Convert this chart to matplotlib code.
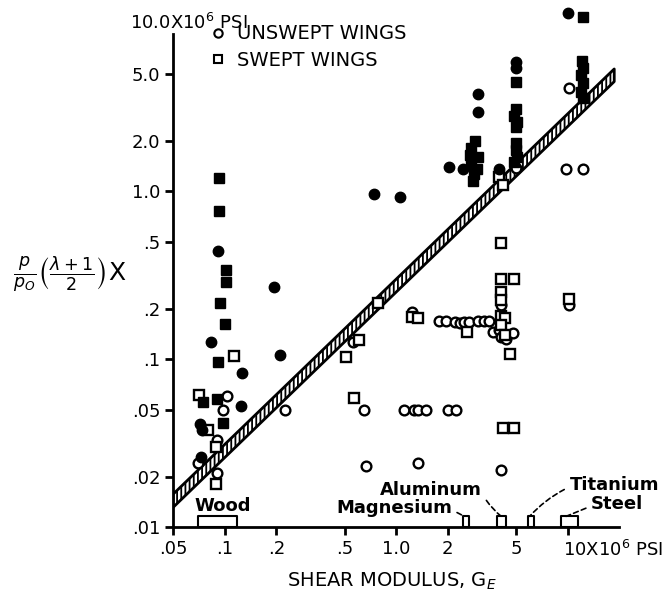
import matplotlib
matplotlib.use("Agg")
import matplotlib.pyplot as plt
from matplotlib.lines import Line2D
from matplotlib.ticker import NullLocator, FixedLocator, FixedFormatter

plt.rcParams['font.family'] = ['DejaVu Sans']
plt.rcParams['mathtext.fontset'] = 'dejavusans'
plt.rcParams['hatch.linewidth'] = 1.3

# shear modulus (10^6 psi) vs flutter parameter
# unswept wings, open / filled
uo_x = [0.103, 0.098, 0.226, 0.090, 0.070, 0.090, 0.56, 0.65, 1.11, 1.27, 1.34, 1.49,
        2.0, 2.23, 0.67, 1.35, 4.1, 1.23, 1.77, 1.95, 2.2, 2.35, 2.5, 2.65, 3.0, 3.25,
        3.5, 3.67, 4.0, 4.1, 4.4, 4.8, 4.1, 10.2, 5.0, 10.2, 9.8, 12.3]
uo_y = [0.060, 0.050, 0.050, 0.033, 0.024, 0.021, 0.126, 0.050, 0.050, 0.050, 0.050, 0.050,
        0.050, 0.050, 0.023, 0.024, 0.022, 0.19, 0.168, 0.168, 0.166, 0.165, 0.166, 0.166,
        0.168, 0.168, 0.168, 0.145, 0.150, 0.135, 0.132, 0.143, 0.21, 0.21, 1.37, 4.1,
        1.35, 1.35]
uf_x = [0.092, 0.083, 0.127, 0.195, 0.21, 0.125, 0.072, 0.074, 0.073, 0.74, 1.05, 2.03,
        2.45, 3.0, 3.0, 5.0, 5.0, 4.0, 10.1]
uf_y = [0.44, 0.126, 0.083, 0.27, 0.106, 0.053, 0.041, 0.038, 0.026, 0.97, 0.92, 1.39,
        1.36, 3.8, 2.95, 5.9, 5.4, 1.35, 11.5]

# swept wings, open / filled
so_x = [0.071, 0.080, 0.089, 0.089, 0.114, 0.78, 0.61, 0.51, 0.57, 1.23, 1.35, 2.58,
        4.1, 4.1, 4.9, 4.1, 4.1, 4.1, 4.3, 4.6, 4.2, 4.9, 10.2, 3.96, 4.2, 4.1, 4.3]
so_y = [0.061, 0.038, 0.030, 0.018, 0.104, 0.215, 0.131, 0.103, 0.059, 0.178, 0.175, 0.145,
        0.49, 0.30, 0.30, 0.25, 0.224, 0.18, 0.175, 0.107, 0.039, 0.039, 0.228, 1.21, 1.09,
        0.16, 0.14]
sf_x = [0.093, 0.093, 0.102, 0.102, 0.094, 0.101, 0.092, 0.075, 0.090, 0.098,
        2.9, 2.75, 2.7, 3.0, 2.75, 2.95, 2.85, 2.8,
        5.0, 5.0, 4.9, 5.1, 5.0, 5.0, 5.0, 5.1, 4.9,
        12.3, 12.2, 12.3, 12.0, 12.3, 12.0, 12.3]
sf_y = [1.2, 0.76, 0.34, 0.29, 0.215, 0.163, 0.096, 0.056, 0.058, 0.042,
        2.0, 1.8, 1.65, 1.6, 1.45, 1.35, 1.27, 1.15,
        4.5, 3.1, 2.8, 2.6, 2.4, 1.93, 1.75, 1.6, 1.5,
        10.9, 6.0, 5.4, 4.9, 4.4, 3.9, 3.6]

# hatched design band
band_x = [0.05, 18.7]
band_lo = [0.0131, 4.5]
band_hi = [0.0157, 5.35]

# material ranges along the axis (start, end)
materials = ['Wood', 'Magnesium', 'Aluminum', 'Titanium', 'Steel']
mat_lo = [0.070, 2.45, 3.87, 5.87, 9.17]
mat_hi = [0.118, 2.65, 4.37, 6.37, 11.5]

xticks = [0.05, 0.1, 0.2, 0.5, 1.0, 2, 5, 10]
xlabels = ['.05', '.1', '.2', '.5', '1.0', '2', '5', '']
yticks = [0.01, 0.02, 0.05, 0.1, 0.2, 0.5, 1.0, 2.0, 5.0]
ylabels = ['.01', '.02', '.05', '.1', '.2', '.5', '1.0', '2.0', '5.0']

fig = plt.figure(figsize=(6.68, 5.91), dpi=100)
ax = fig.add_axes([0.259, 0.108, 0.668, 0.875])
ax.set_xscale('log')
ax.set_yscale('log')
ax.set_xlim(0.05, 20)
ax.set_ylim(0.01, 12)

# band
ax.fill_between(band_x, band_lo, band_hi, facecolor='white', edgecolor='black',
                hatch='||||', linewidth=2, zorder=2)

ms = 7
ax.plot(uo_x, uo_y, 'o', ms=ms, mfc='white', mec='black', mew=1.7, ls='none',
        zorder=3, clip_on=False)
ax.plot(so_x, so_y, 's', ms=ms - 0.5, mfc='white', mec='black', mew=1.7, ls='none',
        zorder=3, clip_on=False)
ax.plot(uf_x, uf_y, 'o', ms=ms + 0.5, color='black', ls='none', zorder=4, clip_on=False)
ax.plot(sf_x, sf_y, 's', ms=ms, color='black', ls='none', zorder=4, clip_on=False)

# material boxes on the x axis
for lo, hi in zip(mat_lo, mat_hi):
    ax.fill_between([lo, hi], [0.01, 0.01], [0.0116, 0.0116], facecolor='white',
                    edgecolor='black', linewidth=1.5, zorder=2)

lead = dict(arrowstyle='-', ls=(0, (3, 2)), lw=1.2, color='black', shrinkA=2, shrinkB=0)
tfont = dict(fontsize=13, fontweight='bold', ha='center', va='center')
ax.text(0.097, 0.0133, 'Wood', **tfont)
ax.annotate('Magnesium', xy=(2.5, 0.0116), xytext=(0.97, 0.0130),
            arrowprops=dict(lead, relpos=(1, 0.4)), annotation_clip=False, **tfont)
ax.annotate('Aluminum', xy=(4.1, 0.0116), xytext=(1.6, 0.0167),
            arrowprops=dict(lead, relpos=(1, 0.3), connectionstyle='arc3,rad=0.1'),
            annotation_clip=False, **tfont)
ax.annotate('Titanium', xy=(6.0, 0.0116), xytext=(18.7, 0.0178),
            arrowprops=dict(lead, relpos=(0, 0.4), connectionstyle='arc3,rad=0.1'),
            annotation_clip=False, **tfont)
ax.annotate('Steel', xy=(9.8, 0.0116), xytext=(19.5, 0.0137),
            arrowprops=dict(lead, relpos=(0, 0.4)), annotation_clip=False, **tfont)

# axes styling
for s in ['top', 'right']:
    ax.spines[s].set_visible(False)
ax.spines['left'].set_linewidth(2)
ax.spines['bottom'].set_linewidth(2)
ax.spines['left'].set_bounds(0.01, 8.7)
ax.xaxis.set_major_locator(FixedLocator(xticks))
ax.xaxis.set_major_formatter(FixedFormatter(xlabels))
ax.yaxis.set_major_locator(FixedLocator(yticks))
ax.yaxis.set_major_formatter(FixedFormatter(ylabels))
ax.xaxis.set_minor_locator(NullLocator())
ax.yaxis.set_minor_locator(NullLocator())
ax.tick_params(axis='both', which='major', direction='out', length=6, width=2,
               labelsize=13, pad=3)

ax.text(9.4, -0.025, r'10X10$^6$ PSI', transform=ax.get_xaxis_transform(),
        fontsize=13, ha='left', va='top')
ax.text(-0.097, 10, r'10.0X10$^6$ PSI', transform=ax.get_yaxis_transform(),
        fontsize=13, ha='left', va='center')

ax.set_xlabel(r'SHEAR MODULUS, G$_E$', fontsize=14, labelpad=4)
ax.xaxis.set_label_coords(0.49, -0.085)
fig.text(0.105, 0.535, r'$\frac{p}{p_O}\left(\frac{\lambda+1}{2}\right)$X',
         fontsize=18, ha='center', va='center')

handles = [Line2D([], [], marker='o', ls='none', ms=6, mfc='white', mec='black', mew=1.5),
           Line2D([], [], marker='s', ls='none', ms=6, mfc='white', mec='black', mew=1.5)]
ax.legend(handles, ['UNSWEPT WINGS', 'SWEPT WINGS'], loc='upper left',
          bbox_to_anchor=(0.3, 0.975), bbox_transform=fig.transFigure, frameon=False,
          fontsize=14, handlelength=0.8, handletextpad=0.6, labelspacing=0.4,
          borderpad=0)

fig.savefig('out.png', dpi=100)
